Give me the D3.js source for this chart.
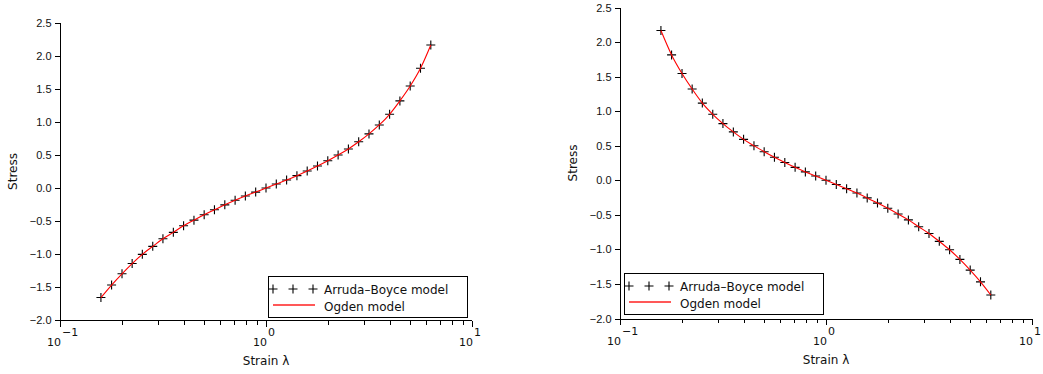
<!DOCTYPE html>
<html>
<head>
<meta charset="utf-8">
<script src="https://cdn.jsdelivr.net/npm/d3@7"></script>
<style>
  body { margin: 0; background: #fff; }
  svg { display: block; font-family: "DejaVu Sans", sans-serif; }
  .axis path, .axis line { stroke: #000; shape-rendering: crispEdges; }
  .axis text { font-size: 11px; fill: #111; }
</style>
</head>
<body>
<div id="chart"></div>
<script>
// strain values (log spaced)
var strain = [0.158, 0.178, 0.200, 0.224, 0.251, 0.282, 0.316, 0.355, 0.398, 0.447, 0.501,
    0.562, 0.631, 0.708, 0.794, 0.891, 1.0, 1.122, 1.259, 1.413, 1.585, 1.778, 1.995,
    2.239, 2.512, 2.818, 3.162, 3.548, 3.981, 4.467, 5.012, 5.623, 6.310];

// left panel stress
var stressLeft = [-1.66, -1.47, -1.30, -1.145, -1.005, -0.884, -0.770, -0.672, -0.573, -0.487,
    -0.405, -0.330, -0.255, -0.185, -0.121, -0.062, 0.0, 0.061, 0.121, 0.187, 0.258,
    0.333, 0.413, 0.500, 0.592, 0.700, 0.820, 0.955, 1.117, 1.320, 1.545, 1.814, 2.167];

// right panel stress
var stressRight = [2.167, 1.814, 1.545, 1.320, 1.117, 0.955, 0.820, 0.700, 0.592, 0.500,
    0.413, 0.333, 0.258, 0.187, 0.121, 0.061, 0.0, -0.062, -0.121, -0.185, -0.255,
    -0.330, -0.405, -0.487, -0.573, -0.672, -0.770, -0.884, -1.005, -1.145, -1.30, -1.47, -1.66];

var yTicks = [-2.0, -1.5, -1.0, -0.5, 0.0, 0.5, 1.0, 1.5, 2.0, 2.5];
var xMajor = [0.1, 1, 10];
var xMajorExp = ["\u22121", "0", "1"];
var xMinor = [0.2, 0.3, 0.4, 0.5, 0.6, 0.7, 0.8, 0.9, 2, 3, 4, 5, 6, 7, 8, 9];
var seriesNames = ["Arruda\u2013Boyce model", "Ogden model"];

var W = 1043, H = 374;

var svg = d3.select("#chart").append("svg")
    .attr("width", W)
    .attr("height", H);

var panels = [
    { values: stressLeft, x0: 60, x1: 472, yTop: 23, yBot: 320, ylabX: 13,
      legend: { x: 268, y: 276, w: 199, h: 41 } },
    { values: stressRight, x0: 620, x1: 1032, yTop: 7.5, yBot: 318.5, ylabX: 573,
      legend: { x: 624, y: 273, w: 199, h: 41 } }
];

function plus(g, cx, cy) {
    var s = 4.5;
    g.append("path")
        .attr("d", "M" + (cx - s) + "," + cy + "H" + (cx + s) + "M" + cx + "," + (cy - s) + "V" + (cy + s))
        .attr("stroke", "#000")
        .attr("stroke-width", 1.1)
        .attr("fill", "none");
}

panels.forEach(function (p) {
    var x = d3.scaleLog().domain([0.1, 10]).range([p.x0, p.x1]);
    var y = d3.scaleLinear().domain([-2, 2.5]).range([p.yBot, p.yTop]);

    var g = svg.append("g");

    // y axis
    g.append("g")
        .attr("class", "axis")
        .attr("transform", "translate(" + (p.x0 + 0.5) + ",0)")
        .call(d3.axisLeft(y).tickValues(yTicks).tickSize(6).tickPadding(3)
            .tickFormat(d3.format(".1f")))
        .call(function (a) { a.select(".domain").attr("d", "M0," + p.yTop + "V" + p.yBot); });

    // x axis: minor ticks
    g.append("g")
        .attr("class", "axis")
        .attr("transform", "translate(0," + (p.yBot + 0.5) + ")")
        .call(d3.axisBottom(x).tickValues(xMinor).tickSize(4).tickFormat(""))
        .call(function (a) { a.select(".domain").attr("d", "M" + p.x0 + ",0H" + p.x1); });

    // x axis: major ticks
    var xa = g.append("g")
        .attr("class", "axis")
        .attr("transform", "translate(0," + (p.yBot + 0.5) + ")")
        .call(d3.axisBottom(x).tickValues(xMajor).tickSize(6).tickFormat(""));
    xa.select(".domain").remove();

    xMajor.forEach(function (v, i) {
        g.append("text")
            .attr("x", x(v) + 1)
            .attr("y", p.yBot + 26)
            .attr("text-anchor", "end")
            .attr("font-size", 11)
            .attr("fill", "#111")
            .text("10");
        g.append("text")
            .attr("x", x(v) + 2)
            .attr("y", p.yBot + 16)
            .attr("text-anchor", "start")
            .attr("font-size", 11)
            .attr("fill", "#111")
            .text(xMajorExp[i]);
    });

    // axis titles
    g.append("text")
        .attr("x", (p.x0 + p.x1) / 2)
        .attr("y", p.yBot + 45)
        .attr("text-anchor", "middle")
        .attr("font-size", 12)
        .attr("fill", "#111")
        .text("Strain \u03bb");

    g.append("text")
        .attr("transform", "translate(" + (p.ylabX + 4) + "," + ((p.yTop + p.yBot) / 2) + ") rotate(-90)")
        .attr("text-anchor", "middle")
        .attr("font-size", 12)
        .attr("fill", "#111")
        .text("Stress");

    // markers
    var pts = strain.map(function (s, i) { return [x(s), y(p.values[i])]; });
    var mk = g.append("g");
    pts.forEach(function (d) { plus(mk, d[0], d[1]); });

    // Ogden curve
    g.append("path")
        .datum(pts)
        .attr("d", d3.line().curve(d3.curveMonotoneX))
        .attr("fill", "none")
        .attr("stroke", "#ff0000")
        .attr("stroke-width", 1.1);

    // legend
    var L = p.legend;
    var lg = g.append("g");
    lg.append("rect")
        .attr("x", L.x + 0.5).attr("y", L.y + 0.5)
        .attr("width", L.w).attr("height", L.h)
        .attr("fill", "#fff")
        .attr("stroke", "#000")
        .attr("stroke-width", 1);
    [5, 25, 45].forEach(function (dx) { plus(lg, L.x + dx, L.y + 13); });
    lg.append("text")
        .attr("x", L.x + 56).attr("y", L.y + 18)
        .attr("font-size", 12).attr("fill", "#111")
        .text(seriesNames[0]);
    lg.append("path")
        .attr("d", "M" + (L.x + 5) + "," + (L.y + 29) + "H" + (L.x + 47))
        .attr("fill", "none")
        .attr("stroke", "#ff2020").attr("stroke-width", 1.3);
    lg.append("text")
        .attr("x", L.x + 56).attr("y", L.y + 35)
        .attr("font-size", 12).attr("fill", "#111")
        .text(seriesNames[1]);
});
</script>
</body>
</html>
